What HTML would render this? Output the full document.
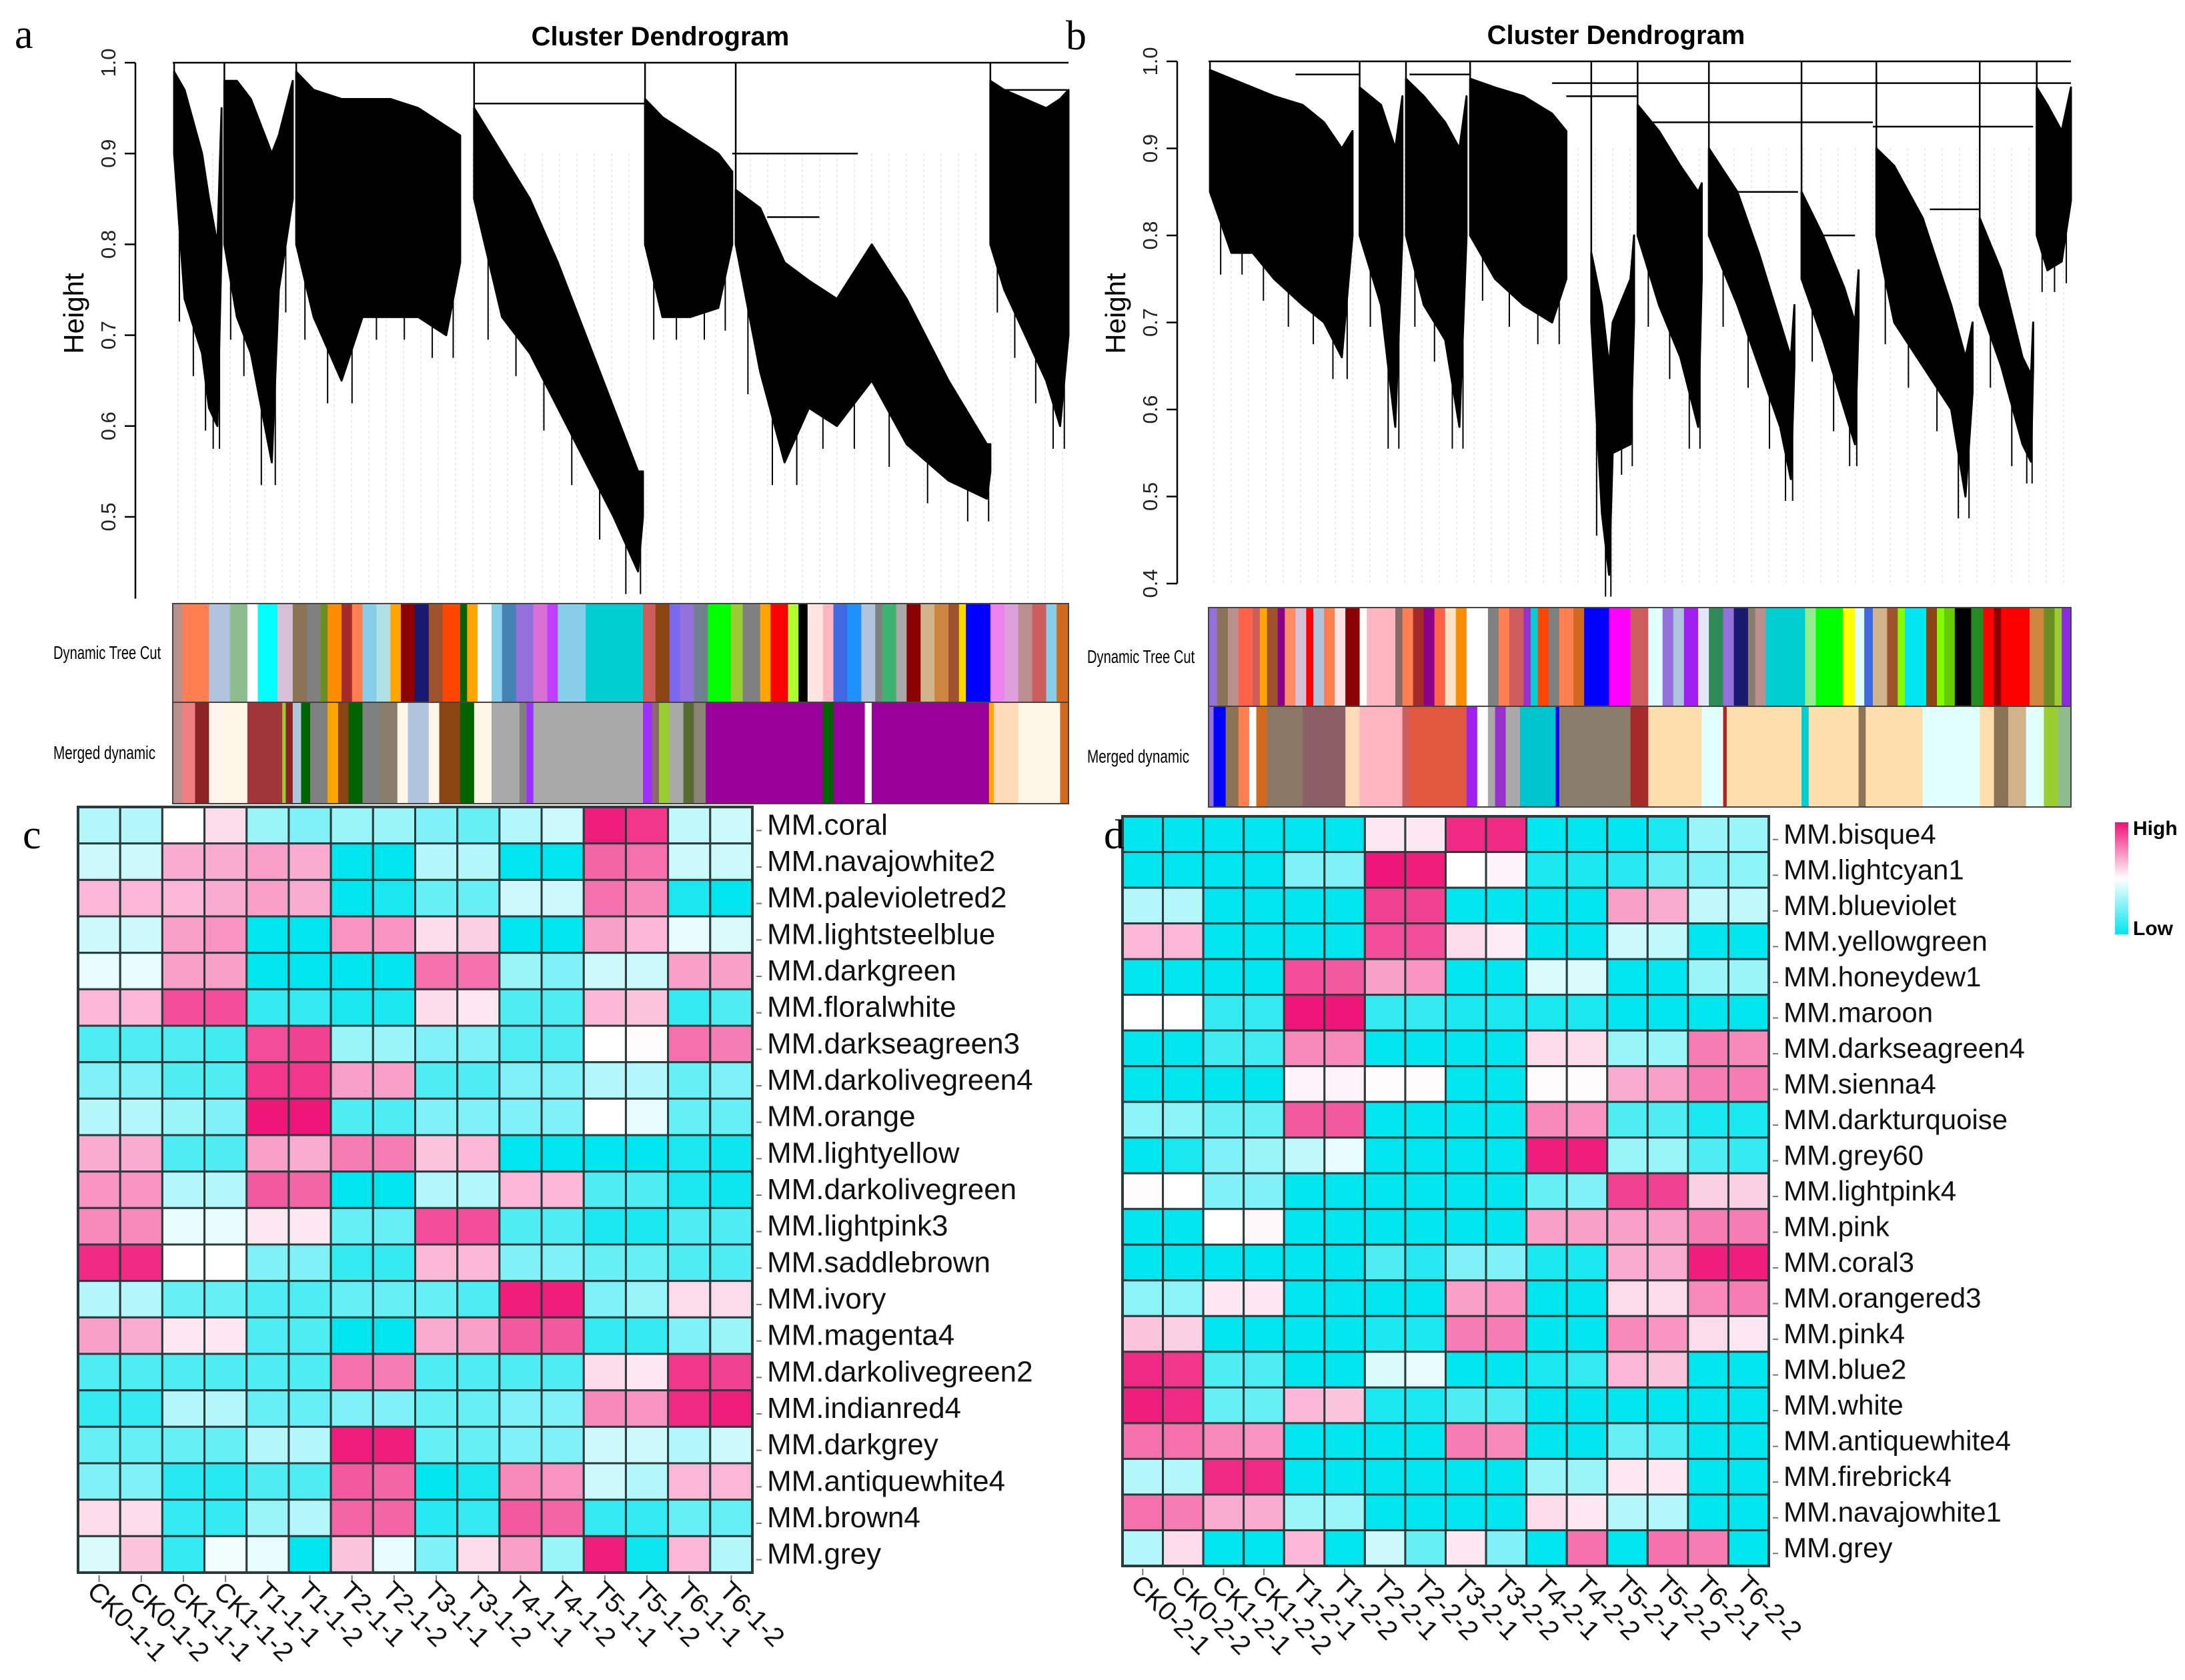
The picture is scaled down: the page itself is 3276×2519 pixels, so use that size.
<!DOCTYPE html>
<html><head><meta charset="utf-8"><style>
html,body{margin:0;padding:0;background:#fff;}
svg{display:block;font-family:"Liberation Sans",sans-serif;}
</style></head><body>
<svg id="fig" width="3276" height="2519" viewBox="0 0 3276 2519" xmlns="http://www.w3.org/2000/svg">
<rect width="3276" height="2519" fill="#fff"/>
<g id="dendroA"></g>
<g id="dendroB"></g>
<g id="heatC"></g>
<g id="heatD"></g>
<text x="22" y="72" font-family="Liberation Serif,serif" font-size="62">a</text>
<text x="1598" y="74" font-family="Liberation Serif,serif" font-size="62">b</text>
<text x="34" y="1272" font-family="Liberation Serif,serif" font-size="62">c</text>
<text x="1655" y="1272" font-family="Liberation Serif,serif" font-size="62">d</text>
<text x="990" y="68" text-anchor="middle" font-weight="bold" font-size="40">Cluster Dendrogram</text>
<text x="2423" y="66" text-anchor="middle" font-weight="bold" font-size="40">Cluster Dendrogram</text>
<defs><linearGradient id="lg" x1="0" y1="0" x2="0" y2="1">
<stop offset="0" stop-color="#ee1276"/><stop offset="0.5" stop-color="#ffffff"/><stop offset="1" stop-color="#00e5ee"/></linearGradient></defs>
<rect x="3171" y="1233" width="20" height="168" fill="url(#lg)"/>
<text x="3198" y="1252" font-weight="bold" font-size="30">High</text>
<text x="3198" y="1402" font-weight="bold" font-size="30">Low</text>
</svg>
<script>
const NS="http://www.w3.org/2000/svg";
function mk(parent,tag,attrs){const e=document.createElementNS(NS,tag);for(const k in attrs)e.setAttribute(k,attrs[k]);parent.appendChild(e);return e;}

/* ---------- heatmap data ---------- */
const rowsC=["MM.coral","MM.navajowhite2","MM.palevioletred2","MM.lightsteelblue","MM.darkgreen","MM.floralwhite","MM.darkseagreen3","MM.darkolivegreen4","MM.orange","MM.lightyellow","MM.darkolivegreen","MM.lightpink3","MM.saddlebrown","MM.ivory","MM.magenta4","MM.darkolivegreen2","MM.indianred4","MM.darkgrey","MM.antiquewhite4","MM.brown4","MM.grey"];
const colsC=["CK0-1-1","CK0-1-2","CK1-1-1","CK1-1-2","T1-1-1","T1-1-2","T2-1-1","T2-1-2","T3-1-1","T3-1-2","T4-1-1","T4-1-2","T5-1-1","T5-1-2","T6-1-1","T6-1-2"];
const valsC=[
[-0.3,-0.3,0,0.15,-0.4,-0.5,-0.4,-0.4,-0.5,-0.6,-0.3,-0.2,0.95,0.85,-0.25,-0.2],
[-0.2,-0.2,0.35,0.35,0.4,0.35,-1,-1,-0.3,-0.3,-1,-1,0.65,0.6,-0.2,-0.2],
[0.3,0.3,0.3,0.35,0.4,0.35,-1,-0.9,-0.6,-0.6,-0.2,-0.2,0.6,0.5,-0.9,-1],
[-0.2,-0.2,0.4,0.45,-1,-1,0.45,0.45,0.15,0.2,-1,-1,0.4,0.3,-0.1,-0.15],
[-0.1,-0.1,0.4,0.4,-1,-1,-1,-1,0.6,0.6,-0.4,-0.5,-0.2,-0.2,0.4,0.4],
[0.3,0.3,0.75,0.75,-0.8,-0.8,-0.9,-0.9,0.15,0.1,-0.7,-0.7,0.3,0.25,-0.8,-0.7],
[-0.7,-0.7,-0.7,-0.75,0.75,0.8,-0.4,-0.4,-0.5,-0.5,-0.7,-0.7,0,0.02,0.6,0.55],
[-0.5,-0.5,-0.7,-0.7,0.85,0.85,0.4,0.4,-0.7,-0.7,-0.5,-0.5,-0.3,-0.3,-0.6,-0.5],
[-0.3,-0.3,-0.4,-0.5,0.98,0.98,-0.7,-0.7,-0.5,-0.5,-0.5,-0.5,0,-0.1,-0.6,-0.6],
[0.35,0.35,-0.7,-0.7,0.4,0.35,0.55,0.55,0.25,0.3,-1,-1,-1,-1,-0.9,-0.95],
[0.45,0.45,-0.3,-0.3,0.7,0.65,-1,-1,-0.3,-0.3,0.3,0.3,-0.7,-0.7,-0.9,-0.95],
[0.5,0.5,-0.1,-0.1,0.1,0.1,-0.6,-0.6,0.75,0.75,-0.7,-0.7,-0.9,-0.9,-0.7,-0.7],
[0.9,0.9,0,0,-0.5,-0.5,-0.8,-0.8,0.3,0.3,-0.5,-0.5,-0.6,-0.6,-0.7,-0.7],
[-0.3,-0.3,-0.6,-0.6,-0.7,-0.7,-0.6,-0.6,-0.6,-0.7,0.95,0.95,-0.5,-0.4,0.15,0.15],
[0.4,0.35,0.1,0.1,-0.7,-0.7,-1,-1,0.35,0.4,0.7,0.7,-0.8,-0.8,-0.5,-0.4],
[-0.7,-0.7,-0.7,-0.7,-0.7,-0.7,0.6,0.55,-0.7,-0.7,-0.7,-0.7,0.15,0.1,0.85,0.8],
[-0.8,-0.8,-0.3,-0.3,-0.6,-0.6,-0.5,-0.5,-0.6,-0.6,-0.5,-0.5,0.5,0.45,0.9,0.95],
[-0.6,-0.6,-0.6,-0.6,-0.3,-0.3,0.95,0.95,-0.6,-0.6,-0.5,-0.5,-0.2,-0.2,-0.3,-0.2],
[-0.5,-0.5,-0.85,-0.85,-0.7,-0.7,0.7,0.65,-1,-0.9,0.5,0.45,-0.2,-0.3,0.3,0.3],
[0.15,0.15,-0.8,-0.8,-0.4,-0.3,0.65,0.65,-0.85,-0.8,0.7,0.65,-0.8,-0.8,-0.6,-0.6],
[-0.15,0.25,-0.8,-0.05,-0.1,-1,0.25,-0.1,-0.5,0.15,0.4,-0.4,0.95,-0.95,0.3,-0.3]];

const rowsD=["MM.bisque4","MM.lightcyan1","MM.blueviolet","MM.yellowgreen","MM.honeydew1","MM.maroon","MM.darkseagreen4","MM.sienna4","MM.darkturquoise","MM.grey60","MM.lightpink4","MM.pink","MM.coral3","MM.orangered3","MM.pink4","MM.blue2","MM.white","MM.antiquewhite4","MM.firebrick4","MM.navajowhite1","MM.grey"];
const colsD=["CK0-2-1","CK0-2-2","CK1-2-1","CK1-2-2","T1-2-1","T1-2-2","T2-2-1","T2-2-2","T3-2-1","T3-2-2","T4-2-1","T4-2-2","T5-2-1","T5-2-2","T6-2-1","T6-2-2"];
const valsD=[
[-1,-1,-1,-1,-1,-1,0.1,0.1,0.9,0.9,-1,-1,-1,-0.9,-0.4,-0.4],
[-1,-1,-1,-1,-0.5,-0.5,0.98,0.95,0,0.05,-0.9,-0.9,-0.85,-0.6,-0.5,-0.45],
[-0.3,-0.3,-1,-1,-1,-1,0.8,0.8,-1,-1,-1,-1,0.4,0.35,-0.25,-0.25],
[0.3,0.3,-1,-1,-1,-1,0.75,0.75,0.15,0.08,-1,-1,-0.2,-0.25,-1,-1],
[-1,-1,-1,-1,0.75,0.7,0.4,0.45,-1,-1,-0.15,-0.15,-1,-1,-0.4,-0.4],
[0,0,-0.8,-0.8,0.98,0.98,-0.8,-0.8,-0.9,-0.9,-0.9,-0.9,-1,-1,-1,-1],
[-1,-1,-0.75,-0.75,0.5,0.5,-1,-1,-1,-1,0.15,0.15,-0.4,-0.4,0.55,0.5],
[-1,-1,-1,-1,0.05,0.05,0.02,0.02,-1,-1,0.02,0.02,0.35,0.4,0.55,0.55],
[-0.45,-0.45,-0.6,-0.6,0.7,0.7,-1,-1,-1,-1,0.5,0.45,-0.7,-0.7,-0.9,-0.9],
[-1,-0.9,-0.5,-0.4,-0.25,-0.1,-1,-1,-1,-1,0.95,0.95,-0.4,-0.4,-0.7,-0.8],
[0.02,0,-0.5,-0.5,-1,-1,-1,-1,-1,-1,-0.6,-0.5,0.8,0.8,0.2,0.2],
[-1,-1,0,0.03,-1,-1,-1,-1,-1,-1,0.4,0.4,0.4,0.4,0.55,0.55],
[-1,-1,-1,-1,-1,-1,-0.7,-0.85,-0.5,-0.5,-0.9,-0.9,0.35,0.35,0.95,0.95],
[-0.45,-0.45,0.1,0.1,-1,-1,-1,-1,0.4,0.45,-1,-1,0.15,0.15,0.5,0.55],
[0.25,0.2,-1,-1,-1,-1,-0.9,-0.9,0.55,0.55,-1,-1,0.5,0.45,0.15,0.1],
[0.9,0.85,-0.7,-0.7,-1,-1,-0.15,-0.1,-1,-1,-0.9,-0.8,0.3,0.25,-1,-1],
[0.95,0.9,-0.6,-0.6,0.3,0.25,-0.9,-0.9,-0.7,-0.7,-1,-1,-1,-1,-1,-1],
[0.6,0.6,0.5,0.45,-1,-1,-1,-1,0.55,0.5,-1,-1,-0.6,-0.7,-1,-1],
[-0.3,-0.3,0.9,0.9,-1,-1,-1,-1,-1,-1,-0.4,-0.4,0.1,0.1,-1,-1],
[0.6,0.55,0.35,0.35,-0.4,-0.4,-1,-1,-1,-1,0.15,0.1,-0.3,-0.3,-1,-1],
[-0.3,0.15,-1,-1,0.3,-1,-0.2,-0.6,0.1,-0.5,-1,0.6,-1,0.6,0.55,-1]];

/* ---------- dendrogram data ---------- */
const clustersA=[
[[250,.99,.9],[265,.97,.74],[290,.9,.68],[300,.85,.62],[312,.8,.6],[318,.95,.8]],
[[322,.98,.8],[340,.98,.72],[360,.96,.68],[390,.9,.56],[400,.92,.75],[420,.98,.85]],
[[425,.99,.8],[450,.97,.72],[490,.96,.65],[520,.96,.72],[560,.96,.72],[600,.95,.72],[640,.93,.7],[660,.92,.78]],
[[680,.95,.85],[720,.9,.72],[760,.85,.68],[800,.78,.62],[840,.7,.56],[880,.62,.5],[915,.55,.44],[922,.55,.5]],
[[925,.96,.8],[950,.94,.72],[990,.92,.72],[1030,.9,.73],[1050,.88,.8]],
[[1055,.86,.8],[1090,.84,.66],[1125,.78,.56],[1160,.76,.62],[1200,.74,.6],[1250,.8,.65],[1300,.74,.58],[1360,.65,.54],[1415,.58,.52],[1420,.58,.55]],
[[1420,.98,.8],[1440,.97,.75],[1470,.96,.7],[1500,.95,.65],[1520,.96,.6],[1532,.97,.7]]];
const mergesA=[[248,1532,1.0],[680,925,.955],[1050,1230,.9],[1100,1175,.83],[1420,1530,.97]];
const clustersB=[
[[200,.99,.85],[230,.98,.78],[260,.97,.78],[290,.96,.75],[330,.95,.72],[360,.93,.7],[385,.9,.66],[400,.92,.8]],
[[410,.97,.8],[440,.95,.72],[460,.9,.58],[470,.96,.8]],
[[475,.98,.8],[500,.96,.72],[530,.93,.68],[550,.9,.58],[560,.96,.8]],
[[565,.98,.8],[600,.97,.75],[640,.96,.72],[680,.94,.7],[700,.92,.75]],
[[735,.78,.7],[750,.72,.48],[760,.65,.41],[765,.7,.55],[790,.75,.56],[795,.8,.7]],
[[800,.95,.8],[830,.92,.72],[860,.88,.66],[885,.85,.58],[890,.86,.75]],
[[900,.9,.8],[940,.85,.72],[970,.78,.65],[1000,.7,.58],[1015,.66,.52],[1020,.72,.65]],
[[1030,.85,.75],[1060,.8,.68],[1090,.74,.6],[1105,.7,.56],[1110,.76,.7]],
[[1135,.9,.8],[1160,.88,.7],[1200,.82,.65],[1240,.72,.6],[1260,.66,.5],[1270,.7,.62]],
[[1280,.82,.72],[1310,.76,.65],[1340,.66,.56],[1352,.64,.54],[1355,.7,.65]],
[[1360,.97,.8],[1375,.95,.76],[1395,.92,.77],[1408,.97,.84]]];
const mergesB=[[198,1408,1.0],[680,1408,.975],[700,800,.96],[820,1130,.93],[1130,1355,.925],[920,1025,.85],[1030,1105,.8],[1210,1280,.83],[480,565,.985],[320,410,.985]];

const dynA=[[248,"#bc8f8f"],[262,"#ff7f50"],[300,"#b0c4de"],[330,"#8fbc8f"],[355,"#ffffff"],[370,"#00ffff"],[398,"#d8bfd8"],[420,"#8b7355"],[440,"#808080"],[460,"#6b8e23"],[470,"#ff8c00"],[490,"#a52a2a"],[505,"#ff7f50"],[520,"#87ceeb"],[540,"#b0e0e6"],[560,"#ffa500"],[575,"#8b0000"],[595,"#191970"],[615,"#a0522d"],[635,"#ff4500"],[660,"#006400"],[670,"#ffa500"],[685,"#ffffff"],[705,"#87ceeb"],[720,"#4682b4"],[740,"#9370db"],[765,"#da70d6"],[785,"#bf3eff"],[800,"#87ceeb"],[840,"#00ced1"],[922,"#cd5c5c"],[940,"#8b4513"],[960,"#7b68ee"],[975,"#9370db"],[995,"#708090"],[1015,"#00ff00"],[1048,"#9acd32"],[1065,"#808080"],[1090,"#ffa500"],[1105,"#ff0000"],[1130,"#adff2f"],[1145,"#000000"],[1158,"#ffe4e1"],[1180,"#ffb6c1"],[1195,"#4169e1"],[1215,"#1e90ff"],[1235,"#b0c4de"],[1255,"#808080"],[1265,"#3cb371"],[1285,"#a9a9a9"],[1300,"#8b0000"],[1320,"#d2b48c"],[1340,"#cd853f"],[1360,"#a0522d"],[1375,"#ffd700"],[1385,"#0000ff"],[1420,"#ee82ee"],[1440,"#dda0dd"],[1460,"#bc8f8f"],[1480,"#cd5c5c"],[1500,"#87ceeb"],[1515,"#d2691e"],[1532,null]];
const merA=[[248,"#bc8f8f"],[262,"#f08080"],[280,"#8b2323"],[300,"#fff5ee"],[320,"#fdf5e6"],[355,"#a0353a"],[405,"#9acd32"],[410,"#8b2323"],[420,"#b0c4de"],[432,"#006400"],[445,"#808080"],[470,"#ffa500"],[485,"#8b4513"],[500,"#006400"],[520,"#808080"],[545,"#8b7d6b"],[570,"#fdf5e6"],[585,"#b0c4de"],[615,"#fdf5e6"],[630,"#8b4513"],[660,"#006400"],[680,"#fdf5e6"],[705,"#a9a9a9"],[745,"#808080"],[755,"#9b30ff"],[765,"#a9a9a9"],[922,"#9b30ff"],[935,"#8b6969"],[945,"#9acd32"],[960,"#a9a9a9"],[980,"#556b2f"],[995,"#8b8378"],[1012,"#990099"],[1180,"#006400"],[1195,"#990099"],[1240,"#ffffff"],[1250,"#990099"],[1418,"#ffa500"],[1425,"#ffdab9"],[1460,"#fdf5e6"],[1520,"#d2691e"],[1532,null]];
const dynB=[[198,"#9370db"],[210,"#8b7355"],[225,"#bc8f8f"],[240,"#ff6347"],[260,"#cd5c5c"],[270,"#ffa500"],[280,"#a0522d"],[295,"#8b008b"],[305,"#ff8c69"],[320,"#d8bfd8"],[335,"#ff0000"],[345,"#b0c4de"],[360,"#ff7f50"],[375,"#ffe4e1"],[390,"#8b0000"],[410,"#ffffff"],[420,"#ffb6c1"],[460,"#8b6969"],[470,"#ff7f50"],[485,"#a52a2a"],[500,"#8b008b"],[515,"#ff6347"],[530,"#ffe4c4"],[545,"#ff8c00"],[560,"#ffffff"],[590,"#808080"],[605,"#ff7f50"],[620,"#cd5c5c"],[640,"#9932cc"],[650,"#00ced1"],[660,"#ff4500"],[675,"#808080"],[690,"#ff7f50"],[710,"#d2691e"],[725,"#0000ff"],[760,"#ff00ff"],[790,"#cd5c5c"],[815,"#e0ffff"],[835,"#9370db"],[850,"#b0c4de"],[865,"#a020f0"],[885,"#e6e6fa"],[900,"#2e8b57"],[920,"#9370db"],[935,"#191970"],[955,"#8b7d6b"],[965,"#bc8f8f"],[980,"#00ced1"],[1035,"#90ee90"],[1050,"#00ff00"],[1088,"#ffff00"],[1105,"#e0ffff"],[1118,"#4169e1"],[1130,"#d2b48c"],[1150,"#a0522d"],[1165,"#7fff00"],[1175,"#00e5ee"],[1205,"#8b4513"],[1220,"#7fff00"],[1230,"#66cd00"],[1245,"#000000"],[1268,"#228b22"],[1285,"#ff0000"],[1300,"#8b0000"],[1310,"#ff0000"],[1350,"#cd853f"],[1370,"#6b8e23"],[1385,"#9acd32"],[1395,"#8a2be2"],[1408,null]];
const merB=[[198,"#9370db"],[205,"#0000ff"],[222,"#8b7355"],[240,"#ff7f50"],[255,"#ffffff"],[265,"#d2691e"],[280,"#8b7765"],[330,"#8b5f65"],[390,"#ffdab9"],[410,"#ffb6c1"],[470,"#cd5c5c"],[480,"#e2583e"],[560,"#a020f0"],[575,"#ffffff"],[590,"#a9a9a9"],[600,"#9932cc"],[615,"#a9a9a9"],[635,"#00c5cd"],[685,"#0000ff"],[690,"#8b7d6b"],[790,"#a52a2a"],[815,"#ffdead"],[890,"#e0ffff"],[920,"#b22222"],[925,"#ffdead"],[1030,"#00ced1"],[1040,"#ffdead"],[1110,"#8b7355"],[1120,"#ffdead"],[1200,"#e0ffff"],[1280,"#ffdead"],[1300,"#8b7355"],[1320,"#d2b48c"],[1345,"#e0ffff"],[1370,"#9acd32"],[1390,"#8fbc8f"],[1408,null]];

/* ---------- dendrogram drawing ---------- */
function dendro(g,cfg){
  const X=d=>cfg.px0+(d-cfg.d0)/(cfg.d1-cfg.d0)*(cfg.px1-cfg.px0);
  const Y=h=>cfg.yTop+(cfg.hTop-h)*cfg.pxPerUnit;
  for(let x=cfg.px0+8;x<cfg.px1;x+=26){
    const l=mk(g,'line',{x1:x,x2:x,y1:Y(0.9),y2:Y(cfg.hMin),stroke:'#e8e8e8','stroke-width':2,'stroke-dasharray':'3,5'});
    
    
  }
  cfg.merges.forEach(m=>{
    const l=mk(g,'line',{x1:X(m[0]),x2:X(m[1]),y1:Y(m[2]),y2:Y(m[2]),stroke:'#000','stroke-width':2.5});
    
    
  });
  cfg.clusters.forEach((c,ci)=>{
    // connector from cluster top to the top-level merge
    const cx=X(c[0][0]);
    const con=mk(g,'line',{x1:cx,x2:cx,y1:Y(1.0),y2:Y(c[0][1]),stroke:'#000','stroke-width':2.5});
    
    
    const pts=[];
    c.forEach(p=>pts.push(X(p[0])+','+Y(p[1])));
    for(let i=c.length-1;i>=0;i--)pts.push(X(c[i][0])+','+Y(c[i][2]));
    const pg=mk(g,'polygon',{points:pts.join(' '),fill:'#000',stroke:'#000','stroke-width':3,'stroke-linejoin':'round'});
    
    
    for(let i=0;i<c.length-1;i++){
      const xa=X(c[i][0]),xb=X(c[i+1][0]);
      const lo=Math.min(c[i][2],c[i+1][2]);
      const l2=mk(g,'line',{x1:(xa+xb)/2,x2:(xa+xb)/2,y1:Y((c[i][2]+c[i+1][2])/2+0.02),y2:Y(lo-0.025),stroke:'#000','stroke-width':2});
      
      
    }
  });
  const ax=mk(g,'line',{x1:cfg.axisX,x2:cfg.axisX,y1:Y(cfg.ticks[cfg.ticks.length-1]),y2:Y(cfg.hMin),stroke:'#000','stroke-width':2.5});
  
  
  cfg.ticks.forEach(t=>{
    const tk=mk(g,'line',{x1:cfg.axisX-16,x2:cfg.axisX,y1:Y(t),y2:Y(t),stroke:'#000','stroke-width':2.5});
    
    
    const tx=mk(g,'text',{x:0,y:0,'font-size':31,'text-anchor':'middle',fill:'#222',transform:`translate(${cfg.axisX-30},${Y(t)}) rotate(-90)`});
    tx.textContent=t.toFixed(1);
    
    
  });
  const ht=mk(g,'text',{x:0,y:0,'font-size':42,'text-anchor':'middle',transform:`translate(${cfg.axisX-78},470) rotate(-90)`});
  ht.textContent='Height';
  
  
  function bar(arr,y0,y1,name){
    for(let i=0;i<arr.length-1;i++){
      const r=mk(g,'rect',{x:X(arr[i][0]),y:y0,width:X(arr[i+1][0])-X(arr[i][0])+0.5,height:y1-y0,fill:arr[i][1]});
      
      
    }
    const b=mk(g,'rect',{x:cfg.px0,y:y0,width:cfg.px1-cfg.px0,height:y1-y0,fill:'none',stroke:'#444','stroke-width':2});
    
    
  }
  bar(cfg.dyn,cfg.bar0,cfg.bar1,'dynamic-tree-cut-bar');
  bar(cfg.mer,cfg.bar1,cfg.bar2,'merged-dynamic-bar');
  const t1=mk(g,'text',{x:cfg.lblX,y:(cfg.bar0+cfg.bar1)/2+9,'font-size':28,transform:`translate(${cfg.lblX},0) scale(0.72,1) translate(${-cfg.lblX},0)`});
  t1.textContent='Dynamic Tree Cut';
  
  
  const t2=mk(g,'text',{x:cfg.lblX,y:(cfg.bar1+cfg.bar2)/2+9,'font-size':28,transform:`translate(${cfg.lblX},0) scale(0.74,1) translate(${-cfg.lblX},0)`});
  t2.textContent='Merged dynamic';
  
  
}
dendro(document.getElementById('dendroA'),{d0:248,d1:1532,px0:259,px1:1602,yTop:94,hTop:1.0,pxPerUnit:1362,hMin:0.41,axisX:203,ticks:[0.5,0.6,0.7,0.8,0.9,1.0],clusters:clustersA,merges:mergesA,dyn:dynA,mer:merA,bar0:905,bar1:1053,bar2:1205,lblX:80});
dendro(document.getElementById('dendroB'),{d0:198,d1:1408,px0:1812,px1:3105,yTop:92,hTop:1.0,pxPerUnit:1305,hMin:0.4,axisX:1765,ticks:[0.4,0.5,0.6,0.7,0.8,0.9,1.0],clusters:clustersB,merges:mergesB,dyn:dynB,mer:merB,bar0:911,bar1:1059,bar2:1210,lblX:1630});

/* ---------- heatmaps ---------- */
function col(v){
  const c= v<0?[0,229,238]:[238,18,118];const t=Math.min(1,Math.abs(v));
  return `rgb(${Math.round(255+(c[0]-255)*t)},${Math.round(255+(c[1]-255)*t)},${Math.round(255+(c[2]-255)*t)})`;
}
function heat(g,rows,cols,vals,x0,x1,y0,y1,fs){
  const cw=(x1-x0)/cols.length,rh=(y1-y0)/rows.length;
  rows.forEach((rn,i)=>{
    cols.forEach((cn,j)=>{
      const r=mk(g,'rect',{x:x0+j*cw,y:y0+i*rh,width:cw,height:rh,fill:col(vals[i][j]),stroke:'#2b3a3a','stroke-width':3});
      
      
    });
    const tk=mk(g,'line',{x1:x1+6,x2:x1+14,y1:y0+(i+0.5)*rh+8,y2:y0+(i+0.5)*rh+8,stroke:'#777','stroke-width':2});
    
    
    const t=mk(g,'text',{x:x1+22,y:y0+(i+0.5)*rh+14,'font-size':fs,fill:'#111'});
    t.textContent=rn;
    
    
  });
  const b=mk(g,'rect',{x:x0,y:y0,width:x1-x0,height:y1-y0,fill:'none',stroke:'#2b3a3a','stroke-width':4});
  
  
  cols.forEach((cn,j)=>{
    const cx=x0+(j+0.5)*cw;
    const tk=mk(g,'line',{x1:cx,x2:cx,y1:y1+4,y2:y1+14,stroke:'#777','stroke-width':2});
    
    
    const t=mk(g,'text',{x:0,y:0,'font-size':40,fill:'#111',transform:`translate(${cx-20},${y1+30}) rotate(45)`});
    t.textContent=cn;
    
    
  });
}
heat(document.getElementById('heatC'),rowsC,colsC,valsC,117,1128,1210,2358,44);
heat(document.getElementById('heatD'),rowsD,colsD,valsD,1683,2652,1224,2348,42);
</script>
</body></html>
